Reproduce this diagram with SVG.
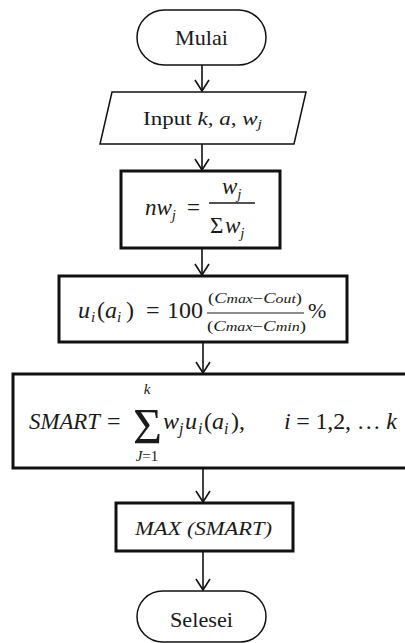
<svg xmlns="http://www.w3.org/2000/svg" width="405" height="643" viewBox="0 0 405 643">
<defs>
<marker id="arr" markerUnits="userSpaceOnUse" viewBox="-13 -9 15 18" markerWidth="15" markerHeight="18" refX="0" refY="0" orient="auto" overflow="visible">
<path d="M-11,-7 L0,0 L-11,7" fill="none" stroke="#111" stroke-width="1.6"/>
</marker>
</defs>
<style>
.t{fill:#1a1a1a}
.i{font-style:italic}
.term{fill:#fff;stroke:#111;stroke-width:1.5}
.thin{fill:#fff;stroke:#111;stroke-width:1.5}
.thick{fill:#fff;stroke:#111;stroke-width:3}
.c{stroke:#111;stroke-width:1.6;fill:none;marker-end:url(#arr)}
</style>
<rect width="405" height="643" fill="#fff"/>
<g id="connectors">
<line class="c" x1="202" y1="65" x2="202" y2="91"/>
<line class="c" x1="202" y1="144" x2="202" y2="170"/>
<line class="c" x1="202" y1="249" x2="202" y2="275"/>
<line class="c" x1="203" y1="343" x2="203" y2="373"/>
<line class="c" x1="203" y1="469" x2="203" y2="502"/>
<line class="c" x1="203" y1="552" x2="203" y2="590"/>
</g>
<g font-family="'Liberation Serif', 'Times New Roman', serif">
<g id="mulai">
<rect class="term" x="137" y="10" width="129" height="55" rx="27.5"/>
<text class="t" x="201.5" y="45" font-size="22" text-anchor="middle" textLength="53" lengthAdjust="spacingAndGlyphs">Mulai</text>
</g>
<g id="input">
<polygon class="thin" points="112,92 306,92 294,144 100,144"/>
<text class="t" x="143" y="125" font-size="19" textLength="119" lengthAdjust="spacingAndGlyphs">Input <tspan class="i">k</tspan>, <tspan class="i">a</tspan>, <tspan class="i">w</tspan><tspan class="i" font-size="13" dy="3">j</tspan></text>
</g>
<g id="normalisasi">
<rect class="thick" x="121" y="171" width="159" height="77"/>
<text class="t i" x="145" y="215" font-size="23">nw<tspan font-size="15" dy="5">j</tspan></text>
<text class="t" x="187" y="215" font-size="23">=</text>
<text class="t i" x="222" y="194" font-size="23">w<tspan font-size="15" dy="5">j</tspan></text>
<line x1="209" y1="203" x2="255" y2="203" stroke="#1a1a1a" stroke-width="1.5"/>
<text class="t" x="210" y="233" font-size="23">Σ</text>
<text class="t i" x="225" y="233" font-size="23">w<tspan font-size="15" dy="5">j</tspan></text>
</g>
<g id="utilitas">
<rect class="thick" x="59" y="276" width="288" height="66" stroke-width="2.5"/>
<text class="t" y="318" font-size="24"><tspan class="i" x="78">u</tspan><tspan class="i" font-size="15" x="91" dy="4">i</tspan><tspan x="97" dy="-4">(</tspan><tspan class="i" x="105">a</tspan><tspan class="i" font-size="15" x="117" dy="4">i</tspan><tspan x="126" dy="-4">)</tspan><tspan x="146">=</tspan><tspan x="167">100</tspan></text>
<text class="t" x="208" y="303" font-size="14" textLength="94" lengthAdjust="spacingAndGlyphs">(<tspan class="i">C</tspan><tspan class="i" font-size="12">max</tspan>−<tspan class="i">C</tspan><tspan class="i" font-size="12">out</tspan>)</text>
<line x1="207" y1="313" x2="304" y2="313" stroke="#1a1a1a" stroke-width="1.2"/>
<text class="t" x="207" y="331" font-size="14" textLength="99" lengthAdjust="spacingAndGlyphs">(<tspan class="i">C</tspan><tspan class="i" font-size="12">max</tspan>−<tspan class="i">C</tspan><tspan class="i" font-size="12">min</tspan>)</text>
<text class="t" x="308" y="318" font-size="22">%</text>
</g>
<g id="smart">
<rect class="thick" x="13" y="374" width="394" height="94"/>
<text class="t i" x="29" y="429" font-size="24" textLength="71" lengthAdjust="spacingAndGlyphs">SMART</text>
<text class="t" x="107" y="429" font-size="24">=</text>
<text class="t" x="133" y="443" font-size="50" textLength="29" lengthAdjust="spacingAndGlyphs">Σ</text>
<text class="t i" x="147" y="394" font-size="15" text-anchor="middle">k</text>
<text class="t" x="147" y="461" font-size="15" text-anchor="middle"><tspan class="i">J</tspan>=1</text>
<text class="t" y="429" font-size="24"><tspan class="i" x="163">w</tspan><tspan class="i" font-size="16" x="179" dy="5">j</tspan><tspan class="i" x="185" dy="-5">u</tspan><tspan class="i" font-size="16" x="198" dy="5">i</tspan><tspan x="204" dy="-5">(</tspan><tspan class="i" x="212">a</tspan><tspan class="i" font-size="16" x="224" dy="5">i</tspan><tspan x="231" dy="-5">),</tspan></text>
<text class="t" x="284" y="429" font-size="24" textLength="113" lengthAdjust="spacing"><tspan class="i">i</tspan> = 1,2, … <tspan class="i">k</tspan></text>
</g>
<g id="max">
<rect class="thick" x="116" y="503" width="177" height="48" stroke-width="2.5"/>
<text class="t i" x="135" y="535" font-size="19" textLength="137" lengthAdjust="spacingAndGlyphs">MAX (SMART)</text>
</g>
<g id="selesei">
<rect class="term" x="137" y="591" width="129" height="51" rx="25.5"/>
<text class="t" x="201.5" y="627" font-size="22" text-anchor="middle" textLength="63" lengthAdjust="spacingAndGlyphs">Selesei</text>
</g>
</g>
</svg>
